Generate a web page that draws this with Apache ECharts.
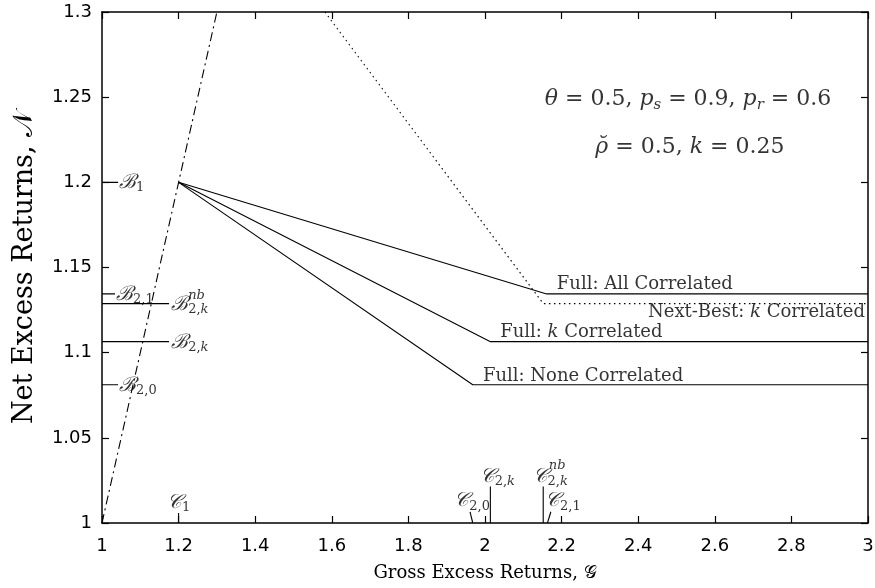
<!DOCTYPE html>
<html>
<head>
<meta charset="utf-8">
<script src="https://cdn.jsdelivr.net/npm/echarts@6/dist/echarts.min.js"></script>
<style>
  html, body { margin: 0; background: #fff; }
  #chart { width: 875px; height: 588px; }
</style>
</head>
<body>
<div id="chart"></div>
<script>
// 各曲线的折点 (G, N)
const diagonal = [[1, 1], [1.3, 1.3]];
const fullAll = [[1.2, 1.2], [2.161, 1.1345], [3, 1.1345]];
const fullK = [[1.2, 1.2], [2.013, 1.1065], [3, 1.1065]];
const fullNone = [[1.2, 1.2], [1.968, 1.0812], [3, 1.0812]];
const nextBest = [[1.582, 1.3], [2.152, 1.1288], [3, 1.1288]];

// 坐标轴旁的标记线段
const markSegments = [
  [[1, 1.2], [1.042, 1.2]],          // B1
  [[1, 1.1345], [1.034, 1.1345]],    // B2,1
  [[1, 1.1288], [1.175, 1.1288]],    // B2,k nb
  [[1, 1.1065], [1.175, 1.1065]],    // B2,k
  [[1, 1.0812], [1.042, 1.0812]],    // B2,0
  [[1.2, 1], [1.2, 1.0059]],         // C1
  [[1.968, 1], [1.961, 1.0066]],     // C2,0
  [[2.014, 1], [2.014, 1.0214]],     // C2,k
  [[2.152, 1], [2.152, 1.0214]],     // C2,k nb
  [[2.163, 1], [2.172, 1.0066]]      // C2,1
];

// 刻度
const xTicks = { min: 1, max: 3, step: 0.2 };
const yTicks = { min: 1, max: 1.3, step: 0.05 };

// 文字标注
const notes = [
  { at: [1.042, 1.2], text: '{c|ℬ}{s|1}', pos: 'right', off: [0, 0] },
  { at: [1.034, 1.1345], text: '{c|ℬ}{s|2,1}', pos: 'right', off: [0, 1] },
  { at: [1.178, 1.1288], text: '{c|ℬ}{s|2,}{si|k}', pos: 'right', off: [0, 1] },
  { at: [1.178, 1.1288], text: '{pi|nb}', pos: 'right', off: [17, -8] },
  { at: [1.178, 1.1065], text: '{c|ℬ}{s|2,}{si|k}', pos: 'right', off: [0, 1] },
  { at: [1.042, 1.0812], text: '{c|ℬ}{s|2,0}', pos: 'right', off: [0, 1] },
  { at: [1.2, 1.0059], text: '{c|𝒞}{s|1}', pos: 'top', off: [0, 2] },
  { at: [1.961, 1.0066], text: '{c|𝒞}{s|2,0}', pos: 'top', off: [2, 2] },
  { at: [2.014, 1.0214], text: '{c|𝒞}{s|2,}{si|k}', pos: 'top', off: [7, 3] },
  { at: [2.152, 1.0214], text: '{c|𝒞}{s|2,}{si|k}', pos: 'top', off: [7, 3] },
  { at: [2.152, 1.0214], text: '{pi|nb}', pos: 'top', off: [14, -13] },
  { at: [2.172, 1.0066], text: '{c|𝒞}{s|2,1}', pos: 'top', off: [12, 2] },
  { at: [2.185, 1.1345], text: 'Full: All Correlated', pos: 'right', off: [0, -10] },
  { at: [3, 1.1288], text: 'Next-Best: {i|k} Correlated', pos: 'left', off: [-2, 9] },
  { at: [2.037, 1.1065], text: 'Full: {i|k} Correlated', pos: 'right', off: [0, -9] },
  { at: [1.992, 1.0812], text: 'Full: None Correlated', pos: 'right', off: [0, -8] },
  { at: [2.53, 1.25], text: '{ti|θ}{t| = 0.5, }{ti|p}{ts|s}{t| = 0.9, }{ti|p}{ts|r}{t| = 0.6}', pos: 'inside', off: [0, 2] },
  { at: [2.535, 1.2206], text: '{ti|ρ̆}{t| = 0.5, }{ti|k}{t| = 0.25}', pos: 'inside', off: [0, 0] }
];

const serif = 'DejaVu Serif';
const sans = 'DejaVu Sans';

const chart = echarts.init(document.getElementById('chart'));

const richStyles = {
  c: { fontFamily: serif, fontSize: 20, fontStyle: 'italic', color: '#000' },
  s: { fontFamily: serif, fontSize: 13, color: '#000', padding: [10, 0, 0, 0] },
  si: { fontFamily: serif, fontSize: 13, fontStyle: 'italic', color: '#000', padding: [10, 0, 0, 0] },
  pi: { fontFamily: serif, fontSize: 13, fontStyle: 'italic', color: '#000' },
  i: { fontFamily: serif, fontSize: 18, fontStyle: 'italic', color: '#000' },
  t: { fontFamily: serif, fontSize: 22, color: '#000' },
  ti: { fontFamily: serif, fontSize: 22, fontStyle: 'italic', color: '#000' },
  ts: { fontFamily: serif, fontSize: 15, fontStyle: 'italic', color: '#000', padding: [11, 0, 0, 0] }
};

function lineSeries(data, type, width) {
  return {
    type: 'line',
    data: data,
    symbol: 'none',
    silent: true,
    clip: true,
    lineStyle: { color: '#000', width: width || 1.1, type: type || 'solid' }
  };
}

function baseAxis(t, extra) {
  return Object.assign({
    type: 'value',
    min: t.min,
    max: t.max,
    interval: t.step,
    axisLine: { show: true, onZero: false, lineStyle: { color: '#000', width: 1.5 } },
    axisTick: { show: true, inside: true, length: 7, lineStyle: { color: '#000', width: 1.2 } },
    splitLine: { show: false },
    axisLabel: { show: false }
  }, extra);
}

const labelAxis = {
  show: true,
  color: '#000',
  fontFamily: sans,
  fontSize: 18
};

const option = {
  animation: false,
  backgroundColor: '#fff',
  grid: { left: 102, right: 7, top: 12, bottom: 65, containLabel: false, outerBoundsMode: 'none' },
  xAxis: [
    baseAxis(xTicks, {
      position: 'bottom',
      axisLabel: Object.assign({ margin: 14 }, labelAxis),
      name: 'Gross Excess Returns, 𝒢',
      nameLocation: 'middle',
      nameGap: 41,
      nameTextStyle: { fontFamily: serif, fontSize: 18, color: '#000' }
    }),
    baseAxis(xTicks, { position: 'top' })
  ],
  yAxis: [
    baseAxis(yTicks, {
      position: 'left',
      axisLabel: Object.assign({ margin: 10 }, labelAxis),
      name: 'Net Excess Returns, 𝒩',
      nameLocation: 'middle',
      nameGap: 64,
      nameTextStyle: { fontFamily: serif, fontSize: 27, color: '#000' }
    }),
    baseAxis(yTicks, { position: 'right' })
  ],
  series: [
    lineSeries(diagonal, [9, 4, 2, 4]),
    lineSeries(nextBest, [1.5, 3.5]),
    lineSeries(fullAll),
    lineSeries(fullK),
    lineSeries(fullNone)
  ].concat(markSegments.map(seg => lineSeries(seg))).concat([{
    type: 'scatter',
    symbolSize: 0,
    silent: true,
    data: notes.map(n => ({
      value: n.at,
      label: {
        show: true,
        position: n.pos,
        distance: 1,
        offset: n.off,
        formatter: n.text,
        fontFamily: serif,
        fontSize: 18,
        color: '#000',
        rich: richStyles
      }
    }))
  }])
};

chart.setOption(option);
</script>
</body>
</html>
